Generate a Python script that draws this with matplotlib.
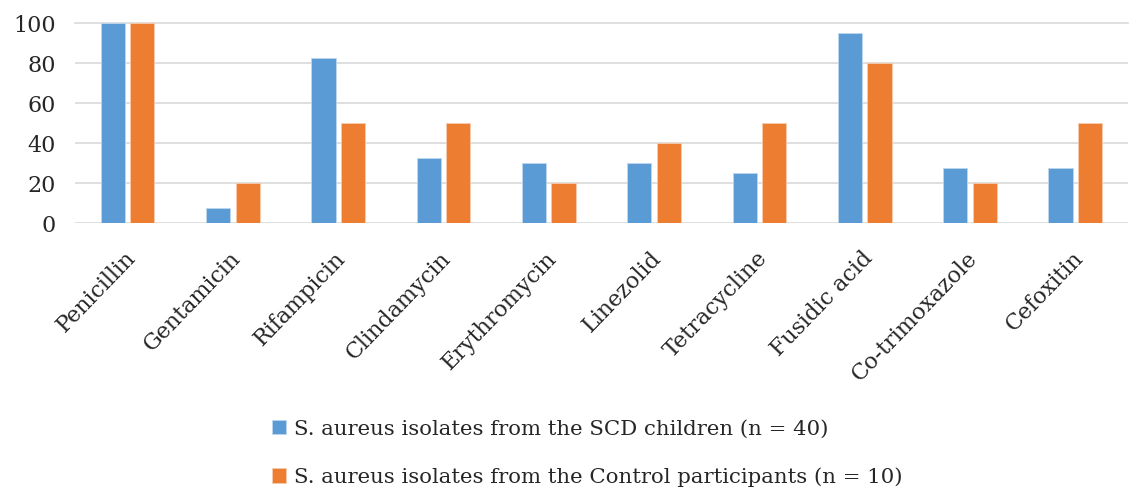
import numpy as np
import matplotlib.pyplot as plt
from matplotlib.transforms import ScaledTranslation

drugs = ["Penicillin", "Gentamicin", "Rifampicin", "Clindamycin", "Erythromycin",
         "Linezolid", "Tetracycline", "Fusidic acid", "Co-trimoxazole", "Cefoxitin"]
scd = [100, 7.5, 82.5, 32.5, 30, 30, 25, 95, 27.5, 27.5]
control = [100, 20, 50, 50, 20, 40, 50, 80, 20, 50]

label_scd = "S. aureus isolates from the SCD children (n = 40)"
label_ctrl = "S. aureus isolates from the Control participants (n = 10)"

plt.rcParams['font.family'] = ['DejaVu Serif']
text_col = '#262626'

fig = plt.figure(figsize=(11.31, 4.88), dpi=100)
ax = fig.add_axes([0.0663, 0.543, 0.931, 0.409])

x = np.arange(len(drugs))
w = 0.23
b1 = ax.bar(x - 0.14, scd, w, color='#5B9BD5', edgecolor='#BDD7EE', linewidth=0.6,
            label=label_scd, zorder=3)
b2 = ax.bar(x + 0.14, control, w, color='#ED7D31', edgecolor='#F8CBAD', linewidth=0.6,
            label=label_ctrl, zorder=3)

ax.set_xlim(-0.5, len(drugs) - 0.5)
ax.set_ylim(0, 100)
ax.set_yticks(range(0, 101, 20))
ax.grid(axis='y', color='#D9D9D9', linewidth=1.2, zorder=0)
ax.set_axisbelow(True)
for s in ax.spines.values():
    s.set_visible(False)
ax.tick_params(axis='y', length=0, labelsize=16, colors=text_col, pad=14)
ax.yaxis.get_gridlines()[-1].set_clip_on(False)

ax.set_xticks(x)
ax.set_xticklabels(drugs, rotation=46, ha='right', va='center', rotation_mode='anchor')
ax.tick_params(axis='x', length=0, labelsize=16, colors=text_col, pad=23)
shift = ScaledTranslation(3 / 72, 0, fig.dpi_scale_trans)
for t in ax.get_xticklabels():
    t.set_transform(t.get_transform() + shift)

fig.legend(handles=[b1, b2], loc='upper left', bbox_to_anchor=(0.2315, 0.162),
           bbox_transform=fig.transFigure, frameon=False, fontsize=15.3,
           handlelength=0.66, handleheight=0.66, handletextpad=0.35, labelspacing=1.35,
           borderpad=0, labelcolor=text_col)

fig.savefig("out.png", dpi=100)
